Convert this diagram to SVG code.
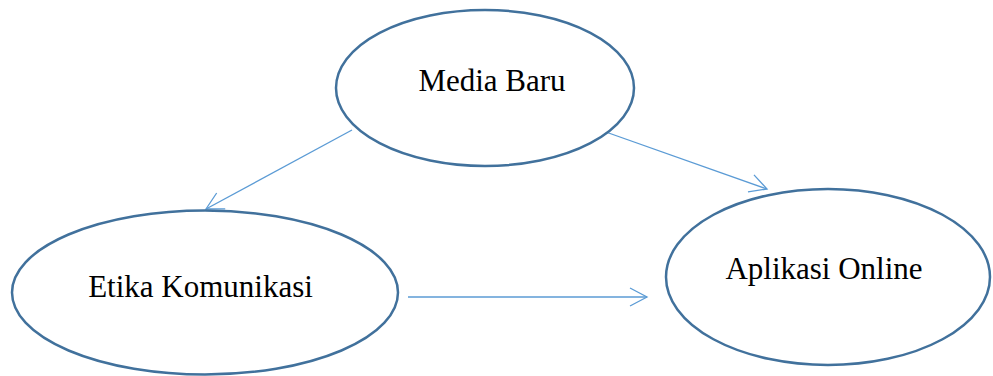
<svg xmlns="http://www.w3.org/2000/svg" width="993" height="376" viewBox="0 0 993 376">
<defs>
<marker id="arr" markerUnits="userSpaceOnUse" markerWidth="40" markerHeight="40" refX="0" refY="0" viewBox="-20 -20 40 40" orient="auto" overflow="visible">
<path d="M-17,-9 L0,0 L-17,9" fill="none" stroke="#5B9BD5" stroke-width="1.3"/>
</marker>
</defs>
<style>
.node ellipse{fill:#fff;stroke:#41719C;stroke-width:2.5}
.node text{font-family:"Liberation Serif","Times New Roman",serif;font-size:31px;fill:#000;text-anchor:middle}
.conn line{stroke:#5B9BD5;stroke-width:1.3;fill:none;marker-end:url(#arr)}
</style>
<g id="connectors" class="conn">
<line x1="352" y1="130" x2="206" y2="209"/>
<line x1="603" y1="131" x2="767" y2="189"/>
<line x1="408" y1="297" x2="647" y2="297"/>
</g>
<g id="media-baru" class="node">
<ellipse cx="485" cy="88" rx="149" ry="78"/>
<text x="492" y="91">Media Baru</text>
</g>
<g id="etika-komunikasi" class="node">
<ellipse cx="205" cy="292.5" rx="193" ry="82"/>
<text x="200.5" y="297">Etika Komunikasi</text>
</g>
<g id="aplikasi-online" class="node">
<ellipse cx="828" cy="277" rx="162" ry="88"/>
<text x="824" y="279">Aplikasi Online</text>
</g>
</svg>
